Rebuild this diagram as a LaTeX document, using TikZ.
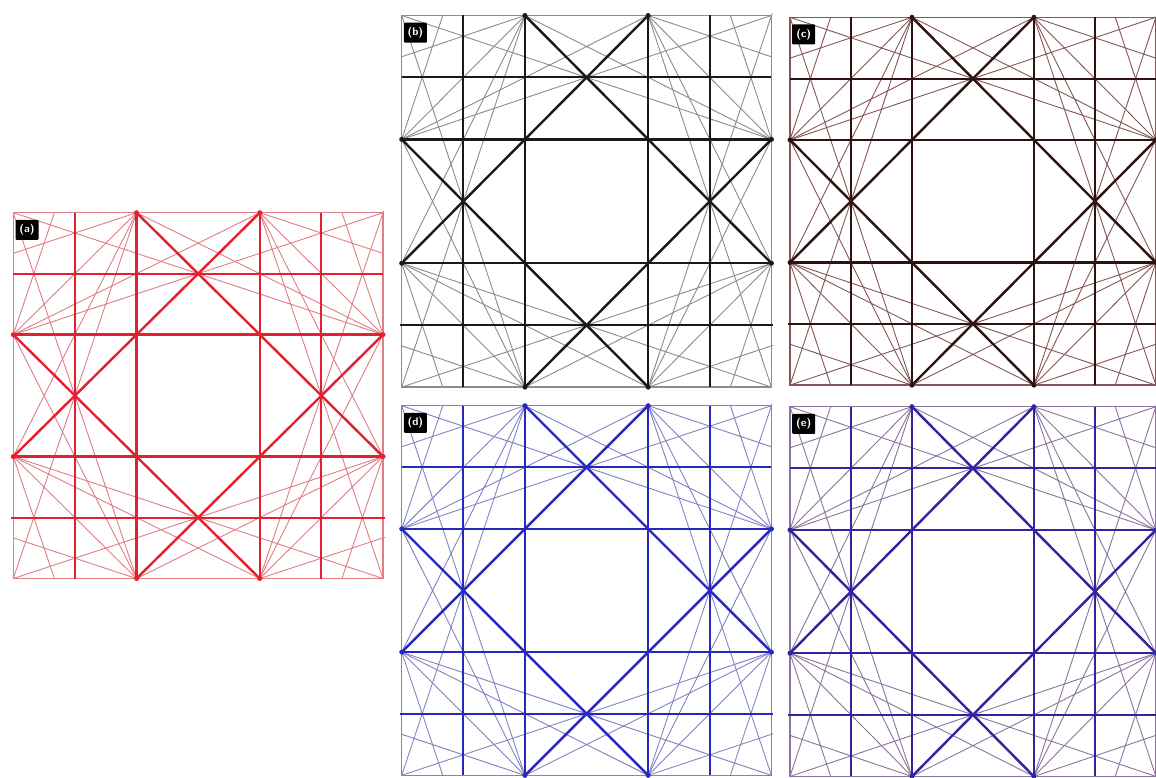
\documentclass[tikz,border=0pt]{standalone}
\usepackage{tikz}
\usetikzlibrary{calc}
\definecolor{adark}{RGB}{228,32,48}
\definecolor{alight}{RGB}{225,125,135}
\definecolor{bdark}{RGB}{25,25,25}
\definecolor{blight}{RGB}{140,140,140}
\definecolor{cdark}{RGB}{45,18,18}
\definecolor{clight}{RGB}{135,85,85}
\definecolor{ddark}{RGB}{40,40,190}
\definecolor{dlight}{RGB}{130,130,195}
\definecolor{edark}{RGB}{50,35,160}
\definecolor{elight}{RGB}{140,115,160}

% one square cell of the line pattern: x0, y0, width, height, panel letter
\newcommand{\latticepanel}[5]{%
  \begin{scope}[shift={(#1,#2)}, xscale=#3, yscale=#4]
    % boundary points
    \coordinate (t1) at (1/3,0);   \coordinate (t2) at (2/3,0);
    \coordinate (r1) at (1,1/3);   \coordinate (r2) at (1,2/3);
    \coordinate (b1) at (1/3,1);   \coordinate (b2) at (2/3,1);
    \coordinate (l1) at (0,1/3);   \coordinate (l2) at (0,2/3);
    \coordinate (nw) at (0,0);     \coordinate (ne) at (1,0);
    \coordinate (sw) at (0,1);     \coordinate (se) at (1,1);
    \coordinate (tl9) at (1/9,0);  \coordinate (tr9) at (8/9,0);
    \coordinate (rt9) at (1,1/9);  \coordinate (rb9) at (1,8/9);
    \coordinate (bl9) at (1/9,1);  \coordinate (br9) at (8/9,1);
    \coordinate (lt9) at (0,1/9);  \coordinate (lb9) at (0,8/9);
    \coordinate (g1t) at (1/6,0);  \coordinate (g1b) at (1/6,1);
    \coordinate (g2t) at (5/6,0);  \coordinate (g2b) at (5/6,1);
    \coordinate (g3l) at (0,1/6);  \coordinate (g3r) at (1,1/6);
    \coordinate (g4l) at (0,5/6);  \coordinate (g4r) at (1,5/6);

    % frame
    \draw[frame, draw=#5light] (nw) -- (ne) -- (se) -- (sw) -- cycle;

    % thin fans
    \draw[fan, draw=#5light] (t1) -- (l1) (t2) -- (r1) (r2) -- (b2) (b1) -- (l2);
    \draw[fan, draw=#5light] (t1) -- (l2) (t2) -- (l1) (t2) -- (r2) (t1) -- (r1)
      (r2) -- (b1) (r1) -- (b2) (b1) -- (l1) (b2) -- (l2);
    \draw[fan, draw=#5light] (t1) -- (sw) (t2) -- (se) (l1) -- (ne) (l2) -- (se)
      (r1) -- (nw) (r2) -- (sw) (b1) -- (nw) (b2) -- (ne);
    \draw[fan, draw=#5light] (t1) -- (lt9) (t2) -- (rt9) (l1) -- (tl9) (l2) -- (bl9)
      (r1) -- (tr9) (r2) -- (br9) (b1) -- (lb9) (b2) -- (rb9);

    % grid at 1/6 and 5/6
    \draw[grid6, draw=#5dark] (g1t) -- (g1b) (g2t) -- (g2b) (g3l) -- (g3r) (g4l) -- (g4r);

    % main lines
    \draw[heavy, draw=#5dark] (t1) -- (b1) (t2) -- (b2) (l1) -- (r1) (l2) -- (r2);
    \draw[heavy, draw=#5dark] (t1) -- (r2) (t2) -- (l2) (l1) -- (b2) (r1) -- (b1);

    \foreach \p in {t1,t2,r1,r2,b1,b2,l1,l2}
      \node[dot, fill=#5dark] at (\p) {};
  \end{scope}%
  % label
  \node[tag, anchor=north west] (tag#5) at ({#1+2},{#2+7}) {(#5)};
}

\begin{document}
\begin{tikzpicture}[
  x=1pt, y=-1pt,
  frame/.style={line width=1.3pt},
  fan/.style={line width=0.9pt, shorten <=-2pt, shorten >=-2pt},
  grid6/.style={line width=2pt, shorten <=-2pt, shorten >=-2pt},
  heavy/.style={line width=2.4pt, shorten <=-1pt, shorten >=-1pt},
  dot/.style={circle, inner sep=0pt, minimum size=5pt},
  tag/.style={fill=black, text=white, rounded corners=1pt, inner sep=1pt,
    minimum width=23pt, minimum height=20pt,
    font=\sffamily\bfseries\fontsize{11}{11}\selectfont}
]
  \useasboundingbox[fill=white] (0,0) rectangle (1156,778);

  % (a)
  \latticepanel{13.3}{212.7}{370}{367}{a}
  % (b)
  \latticepanel{401.7}{15.5}{370}{372}{b}
  % (c)
  \latticepanel{790}{17.3}{366}{368}{c}
  % (d)
  \latticepanel{401.7}{405.7}{370}{371}{d}
  % (e)
  \latticepanel{790}{406.7}{366}{370}{e}
\end{tikzpicture}
\end{document}
